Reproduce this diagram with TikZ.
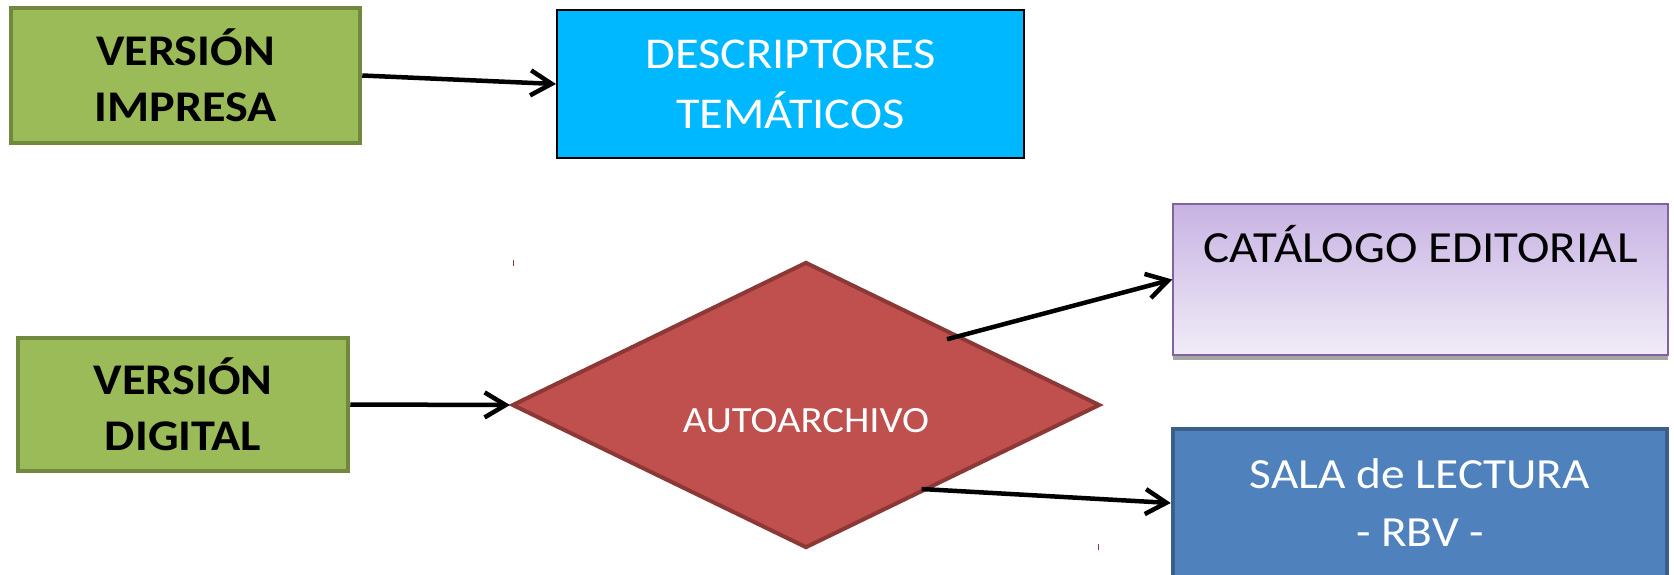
\documentclass[tikz,border=0pt]{standalone}
\usepackage{fontspec}
\setmainfont{Carlito}[FakeStretch=1.1]
\usetikzlibrary{arrows.meta,shapes.geometric,shadows,calc}
\definecolor{grfill}{HTML}{9BBB59}
\definecolor{grline}{HTML}{71893F}
\definecolor{cyfill}{HTML}{00B8FF}
\definecolor{ptop}{HTML}{C7B3E3}
\definecolor{pbot}{HTML}{F1ECF7}
\definecolor{pline}{HTML}{8064A2}
\definecolor{bfill}{HTML}{4F81BD}
\definecolor{bline}{HTML}{3A5F8B}
\definecolor{rfill}{HTML}{C0504D}
\definecolor{rline}{HTML}{8C3836}
\begin{document}
\begin{tikzpicture}[x=1pt,y=-1pt,
  greenbox/.style={draw=grline, fill=grfill, line width=4.5pt, align=center, inner sep=0pt,
    font=\fontsize{43.8}{56}\selectfont\bfseries},
  descbox/.style={draw=black, fill=cyfill, line width=2pt, align=center, inner sep=0pt,
    text=white, font=\fontsize{44}{60}\selectfont},
  catbox/.style={draw=pline, line width=1.5pt, top color=ptop, bottom color=pbot, inner sep=0pt,
    font=\fontsize{44.5}{56}\selectfont,
    drop shadow={shadow xshift=0pt, shadow yshift=-5pt, fill=black!35, opacity=1}},
  salabox/.style={draw=bline, fill=bfill, line width=4.5pt, align=center, inner sep=0pt,
    text=white, font=\fontsize{43}{58}\selectfont},
  autobox/.style={diamond, aspect=2.08, draw=rline, fill=rfill, line width=4pt, inner sep=0pt,
    text=white, font=\fontsize{37}{44}\selectfont},
  conn/.style={line width=4.5pt, -{Straight Barb[length=21pt,width=25pt]}},
  tickmark/.style={draw=rline, line width=1pt}]
\useasboundingbox (0,0) rectangle (1674,574);

\node[greenbox, minimum width=349pt, minimum height=135pt] (imp) at (185.5,75.5) {VERSIÓN\\IMPRESA};
\node[descbox, minimum width=467pt, minimum height=148pt] (desc) at (790.5,84) {DESCRIPTORES\\TEMÁTICOS};
\node[greenbox, minimum width=330pt, minimum height=133pt] (dig) at (183,404.5) {VERSIÓN\\DIGITAL};
\node[autobox, minimum width=588pt, minimum height=286pt, text height=54pt, text depth=0pt] (auto) at (806,405) {AUTOARCHIVO};
\node[catbox, minimum width=495pt, minimum height=151pt, text height=30pt, text depth=65pt] (cat) at (1420.5,279.5) {CATÁLOGO EDITORIAL};
\node[salabox, minimum width=494pt, minimum height=148pt] (sala) at (1420,503) {SALA de LECTURA\\- RBV -};

\draw[conn] (imp.east) -- (desc.west);
\draw[conn] (dig.east) -- (auto.west);
\draw[conn] ($(auto.center)!0.93!(auto.25)$) -- (cat.west);
\draw[conn] ($(auto.center)!0.97!(auto.-36.5)$) -- (sala.west);

\draw[tickmark] (513,260) -- (513,266);
\draw[tickmark] (1098,544) -- (1098,550);
\end{tikzpicture}
\end{document}
